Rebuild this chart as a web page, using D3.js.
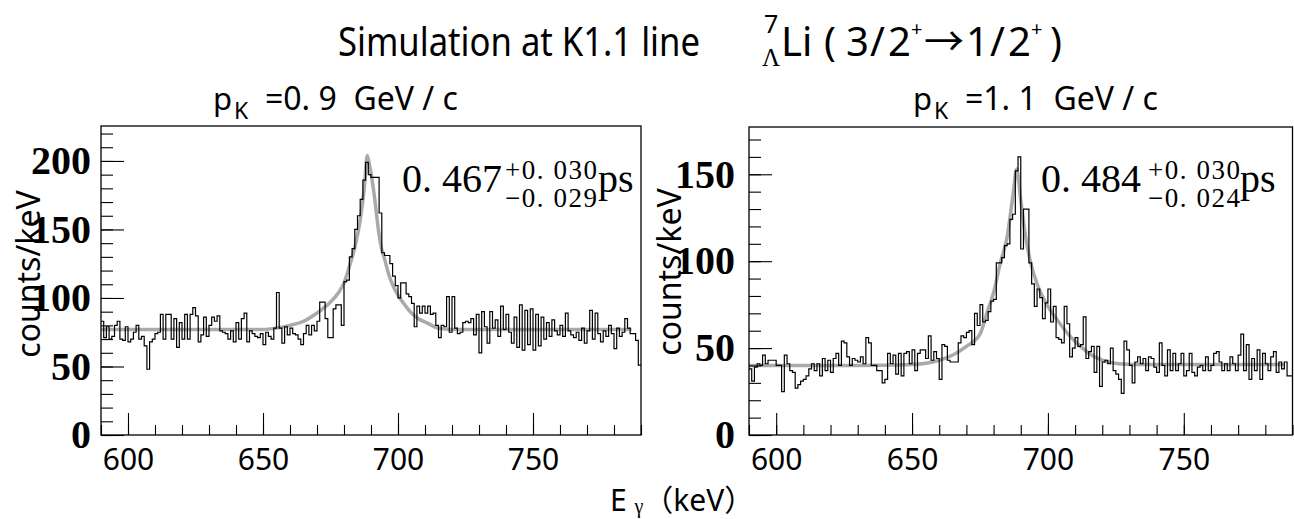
<!DOCTYPE html>
<html>
<head>
<meta charset="utf-8">
<script src="https://cdn.jsdelivr.net/npm/d3@7"></script>
<style>
  body { margin: 0; background: #fff; }
  svg { display: block; }
  .sans { font-family: "Noto Sans", "Noto Sans CJK SC", sans-serif; }
  .serif { font-family: "Liberation Serif", "DejaVu Serif", serif; }
</style>
</head>
<body>
<div id="chart"></div>
<script>
// histogram bins: 1 keV wide, first bin starts at 590 keV
const binStart = 590;
const binWidth = 1;

// p_K = 0.9 GeV/c, counts per bin 590..789 keV
const leftCounts = [
  83, 71, 79, 70, 72, 80, 83, 70, 69, 79,
  68, 70, 75, 80, 70, 72, 65, 48, 68, 70,
  74, 75, 88, 70, 88, 88, 70, 85, 64, 82,
  70, 88, 70, 88, 93, 87, 68, 73, 86, 72,
  80, 86, 83, 87, 76, 75, 74, 70, 76, 68,
  82, 70, 85, 89, 68, 76, 74, 72, 71, 74,
  66, 75, 72, 70, 78, 104, 78, 67, 79, 73,
  78, 74, 73, 70, 66, 74, 80, 73, 80, 76,
  83, 97, 97, 85, 71, 71, 92, 95, 95, 80,
  112, 113, 130, 136, 150, 160, 172, 186, 199, 190,
  188, 188, 188, 162, 133, 131, 131, 125, 116, 109,
  100, 111, 111, 103, 101, 96, 79, 94, 89, 94,
  89, 94, 88, 89, 80, 71, 80, 79, 101, 75,
  101, 78, 74, 75, 82, 83, 82, 85, 73, 88,
  60, 90, 79, 67, 90, 78, 84, 72, 94, 77,
  88, 75, 67, 86, 64, 95, 62, 91, 66, 92,
  62, 88, 65, 86, 70, 82, 72, 84, 76, 73,
  80, 72, 89, 76, 73, 71, 75, 69, 78, 67,
  76, 91, 70, 89, 74, 68, 76, 72, 80, 74,
  63, 78, 72, 75, 85, 78, 74, 74, 69, 51
];

// p_K = 1.1 GeV/c
const rightCounts = [
  38, 31, 39, 41, 40, 46, 41, 43, 43, 43,
  40, 40, 25, 46, 41, 37, 36, 27, 29, 31,
  32, 34, 38, 41, 37, 41, 34, 44, 37, 43,
  36, 44, 47, 40, 54, 53, 45, 40, 44, 43,
  42, 45, 41, 56, 53, 40, 40, 37, 37, 30,
  32, 47, 41, 46, 35, 47, 34, 47, 48, 41,
  49, 37, 47, 49, 49, 44, 57, 43, 48, 44,
  32, 52, 51, 43, 42, 42, 42, 53, 57, 56,
  59, 60, 52, 70, 63, 75, 65, 66, 71, 77,
  78, 99, 99, 102, 109, 110, 124, 127, 152, 160,
  107, 130, 130, 99, 87, 74, 84, 79, 67, 76,
  84, 65, 74, 56, 55, 53, 74, 64, 45, 50,
  56, 51, 52, 68, 44, 48, 51, 36, 51, 28,
  42, 43, 41, 50, 37, 35, 32, 24, 54, 49,
  40, 30, 42, 45, 41, 44, 37, 45, 44, 39,
  36, 53, 40, 34, 49, 37, 47, 37, 41, 47,
  34, 37, 47, 36, 34, 39, 40, 37, 45, 37,
  40, 47, 48, 42, 37, 41, 37, 45, 41, 37,
  46, 58, 37, 52, 32, 44, 37, 49, 32, 47,
  41, 37, 45, 48, 36, 42, 38, 42, 34, 34
];

// fitted curves, points
const leftFitE = [590, 650, 655, 660, 665, 670, 675, 678, 680, 682, 684, 686, 687.5, 688.6,
                  688.9, 691.4, 692.6, 693.8, 695.1, 696.3, 697.5, 700, 702.5, 705, 707.4, 711.1, 714.8, 719.8, 786.5];
const leftFitV = [77, 77, 78, 80, 83, 89, 97, 104, 111, 123, 137, 157, 180, 204,
                  202, 172, 152, 137, 128, 119, 112, 102, 95, 89, 85, 81.5, 78, 77, 77];

const rightFitE = [590, 630, 650, 660, 665, 670, 675, 677.5, 680, 682.5, 685, 687.3, 688.5,
                   690, 692, 694, 696, 700, 704, 708, 712, 716, 720, 726, 735, 787];
const rightFitV = [40, 40, 40.5, 43, 46, 51, 58, 70, 82, 99, 114, 140, 153,
                   135, 112, 97, 87, 74, 65, 57, 51, 46, 43, 41, 40.5, 40.5];

const xTicks = [600, 650, 700, 750];
const leftYTicks = [0, 50, 100, 150, 200];
const rightYTicks = [0, 50, 100, 150];
const momenta = ["=0. 9  GeV / c", "=1. 1  GeV / c"];
const lifetimes = ["0. 467", "0. 484"];
const errUp = ["+0. 030", "+0. 030"];
const errDown = ["\u22120. 029", "\u22120. 024"];

const width = 1294;
const height = 519;

const svg = d3.select("#chart")
  .append("svg")
  .attr("width", width)
  .attr("height", height);

svg.append("rect").attr("width", width).attr("height", height).attr("fill", "#fff");

const panels = [
  { counts: leftCounts, fitE: leftFitE, fitV: leftFitV, xr: [101, 641], yTop: 126, yMax: 225.5,
    yTicks: leftYTicks, labelPad: 10, titleX: 213, yTitleX: 40, yTitleY: 274,
    valX: 402, errX: 505, psX: 598, i: 0 },
  { counts: rightCounts, fitE: rightFitE, fitV: rightFitV, xr: [749, 1292.5], yTop: 127, yMax: 177.2,
    yTicks: rightYTicks, labelPad: 14, titleX: 913, yTitleX: 681, yTitleY: 272,
    valX: 1041, errX: 1148, psX: 1240, i: 1 }
];

const bottom = 435;

panels.forEach(p => drawPanel(p));

function drawPanel(p) {
  const g = svg.append("g");
  const x = d3.scaleLinear().domain([590, 790]).range(p.xr);
  const y = d3.scaleLinear().domain([0, p.yMax]).range([bottom, p.yTop]);

  // fit curve (grey, underneath)
  const fit = p.fitE.map((e, k) => [e, p.fitV[k]]);
  g.append("path")
    .datum(fit)
    .attr("fill", "none")
    .attr("stroke", "#aaaaaa")
    .attr("stroke-width", 3.5)
    .attr("d", d3.line().x(d => x(d[0])).y(d => y(d[1])).curve(d3.curveMonotoneX));

  // histogram
  const pts = p.counts.map((c, k) => [binStart + k * binWidth, c]);
  pts.push([binStart + p.counts.length * binWidth, p.counts[p.counts.length - 1]]);
  g.append("path")
    .datum(pts)
    .attr("fill", "none")
    .attr("stroke", "#000")
    .attr("stroke-width", 1.2)
    .attr("d", d3.line().x(d => x(d[0])).y(d => y(d[1])).curve(d3.curveStepAfter));

  // x axis: minor and major ticks pointing inward
  g.append("g")
    .attr("transform", `translate(0,${bottom})`)
    .call(d3.axisBottom(x).tickValues(d3.range(590, 791, 10)).tickSize(-10).tickSizeOuter(0).tickFormat(""))
    .call(a => a.select(".domain").remove());
  const xa = g.append("g")
    .attr("transform", `translate(0,${bottom})`)
    .call(d3.axisBottom(x).tickValues(xTicks).tickSize(-22).tickSizeOuter(0).tickPadding(14))
    .call(a => a.select(".domain").remove());
  xa.selectAll("text")
    .attr("class", "sans")
    .attr("font-size", 30)
    .attr("fill", "#000");

  // y axis
  g.append("g")
    .attr("transform", `translate(${p.xr[0]},0)`)
    .call(d3.axisLeft(y).tickValues(d3.range(0, p.yMax, 10)).tickSize(-12).tickSizeOuter(0).tickFormat(""))
    .call(a => a.select(".domain").remove());
  const ya = g.append("g")
    .attr("transform", `translate(${p.xr[0]},0)`)
    .call(d3.axisLeft(y).tickValues(p.yTicks).tickSize(-23).tickSizeOuter(0).tickPadding(p.labelPad))
    .call(a => a.select(".domain").remove());
  ya.selectAll("text")
    .attr("class", "serif")
    .attr("font-size", 40)
    .attr("font-weight", "bold")
    .attr("fill", "#000");

  g.selectAll(".tick line").attr("stroke", "#000").attr("stroke-width", 1.1);
  g.selectAll(".tick text").attr("font-family", null);

  // frame
  g.append("rect")
    .attr("x", p.xr[0])
    .attr("y", p.yTop)
    .attr("width", p.xr[1] - p.xr[0])
    .attr("height", bottom - p.yTop)
    .attr("fill", "none")
    .attr("stroke", "#000")
    .attr("stroke-width", 1.3);

  // panel title
  svg.append("text")
    .attr("class", "sans")
    .attr("x", p.titleX)
    .attr("y", 110)
    .attr("font-size", 31)
    .text("p");
  svg.append("text")
    .attr("class", "sans")
    .attr("x", p.titleX + 21)
    .attr("y", 119)
    .attr("font-size", 23)
    .text("K");
  svg.append("text")
    .attr("class", "sans")
    .attr("x", p.titleX + 52)
    .attr("y", 110)
    .attr("font-size", 32)
    .style("white-space", "pre")
    .text(momenta[p.i]);

  // y title
  svg.append("text")
    .attr("class", "sans")
    .attr("transform", `translate(${p.yTitleX},${p.yTitleY}) rotate(-90)`)
    .attr("text-anchor", "middle")
    .attr("font-size", 32)
    .text("counts/keV");

  // fitted lifetime
  svg.append("text")
    .attr("class", "serif")
    .attr("x", p.valX)
    .attr("y", 192)
    .attr("font-size", 40)
    .text(lifetimes[p.i]);
  svg.append("text")
    .attr("class", "serif")
    .attr("x", p.errX)
    .attr("y", 179)
    .attr("font-size", 27)
    .attr("textLength", 92)
    .attr("lengthAdjust", "spacing")
    .text(errUp[p.i]);
  svg.append("text")
    .attr("class", "serif")
    .attr("x", p.errX)
    .attr("y", 207)
    .attr("font-size", 27)
    .attr("textLength", 92)
    .attr("lengthAdjust", "spacing")
    .text(errDown[p.i]);
  svg.append("text")
    .attr("class", "serif")
    .attr("x", p.psX)
    .attr("y", 192)
    .attr("font-size", 40)
    .text("ps");
}

// main title, written piece by piece
function titlePiece(str, x, y, size, cls) {
  svg.append("text")
    .attr("class", cls || "sans")
    .attr("x", x)
    .attr("y", y)
    .attr("font-size", size)
    .text(str);
}
svg.append("text")
  .attr("class", "sans")
  .attr("x", 338)
  .attr("y", 56)
  .attr("font-size", 40)
  .attr("textLength", 362)
  .attr("lengthAdjust", "spacingAndGlyphs")
  .text("Simulation at K1.1 line");
titlePiece("7", 764, 33, 25);
titlePiece("\u039b", 762, 66, 25, "serif");
titlePiece("Li", 781, 56, 40);
titlePiece("(", 824, 56, 40);
titlePiece("3", 846, 56, 40);
titlePiece("/", 870, 56, 40);
titlePiece("2", 888, 56, 40);
titlePiece("+", 911, 36, 20);
titlePiece("\u2192", 924, 56, 40);
titlePiece("1", 966, 56, 40);
titlePiece("/", 990, 56, 40);
titlePiece("2", 1008, 56, 40);
titlePiece("+", 1031, 36, 20);
titlePiece(")", 1050, 56, 40);

// x title
const xt = svg.append("text")
  .attr("class", "sans")
  .attr("x", 610)
  .attr("y", 511)
  .attr("font-size", 30);
xt.append("tspan").text("E ");
xt.append("tspan").attr("class", "serif").attr("font-size", 20).attr("dy", 2).text("\u03b3");
xt.append("tspan").attr("dy", -2).text("\uff08keV\uff09");
</script>
</body>
</html>
